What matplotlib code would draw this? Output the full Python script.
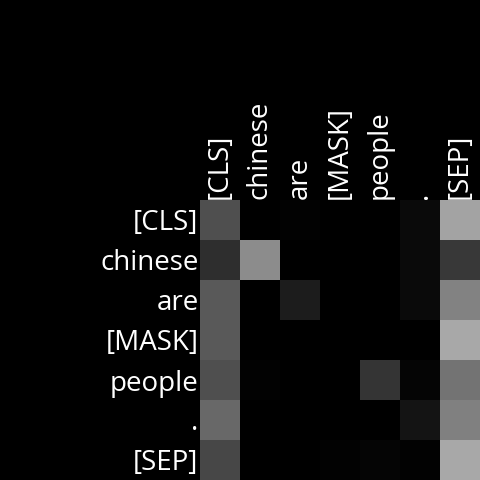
import numpy as np
import matplotlib
matplotlib.use("Agg")
import matplotlib.pyplot as plt

plt.rcParams['font.family'] = ['Open Sans', 'DejaVu Sans']

tokens = ["[CLS]", "chinese", "are", "[MASK]", "people", ".", "[SEP]"]

# attention weights, one row per query token
row_cls = [0.31, 0.00, 0.01, 0.00, 0.00, 0.04, 0.64]
row_chinese = [0.18, 0.55, 0.00, 0.00, 0.00, 0.04, 0.22]
row_are = [0.35, 0.00, 0.11, 0.00, 0.00, 0.04, 0.51]
row_mask = [0.35, 0.00, 0.00, 0.00, 0.00, 0.00, 0.66]
row_people = [0.31, 0.01, 0.00, 0.00, 0.21, 0.02, 0.45]
row_dot = [0.41, 0.00, 0.00, 0.00, 0.00, 0.08, 0.50]
row_sep = [0.28, 0.00, 0.00, 0.01, 0.02, 0.01, 0.66]

attn = np.array([row_cls, row_chinese, row_are, row_mask,
                 row_people, row_dot, row_sep])

fig = plt.figure(figsize=(4.8, 4.8), dpi=100, facecolor="black")
ax = fig.add_axes([200 / 480, 0, 280 / 480, 280 / 480])
ax.imshow(attn, cmap="gray", vmin=0, vmax=1, aspect="auto",
          interpolation="nearest")

ax.set_xticks(range(len(tokens)))
ax.set_yticks(range(len(tokens)))
ax.set_xticklabels(tokens, rotation=90, color="white", fontsize=20)
ax.set_yticklabels(tokens, color="white", fontsize=20)
ax.xaxis.tick_top()
ax.tick_params(length=0, pad=1)
for s in ax.spines.values():
    s.set_visible(False)

fig.savefig("out.png", dpi=100, facecolor="black")
